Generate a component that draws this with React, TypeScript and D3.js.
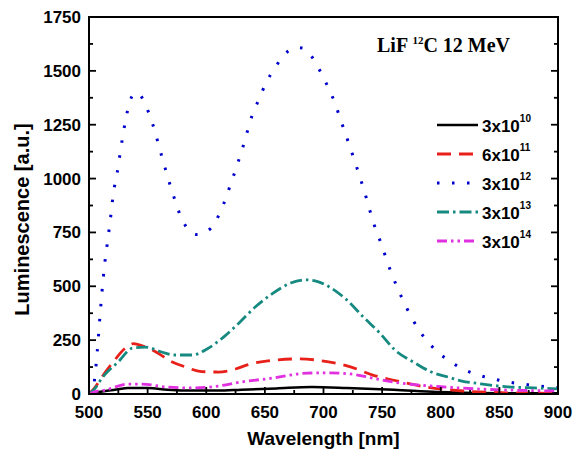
import React from "react";
import * as d3 from "d3";

type Pt = [number, number];

// wavelength (nm), luminescence (a.u.)
const fluence3e10: Pt[] = [
  [500, 0], [505, 6], [514, 14], [525, 22], [533, 28], [550, 28], [567, 20], [590, 16],
  [610, 16], [630, 20], [660, 26], [690, 32], [720, 28], [760, 20], [797, 9], [848, 4], [900, 3],
];
const fluence6e11: Pt[] = [
  [500, 0], [505, 30], [511, 79], [520, 144], [531, 213], [538, 234], [546, 222], [554, 204],
  [571, 149], [582, 126], [596, 104], [610, 102], [625, 116], [635, 135], [660, 158], [680, 163],
  [703, 150], [723, 126], [742, 88], [759, 65], [788, 32], [819, 14], [862, 5], [900, 3],
];
const fluence3e12: Pt[] = [
  [500, 0], [503, 10], [505, 80], [507, 195], [509, 335], [511, 470], [513, 585], [516, 715],
  [518, 800], [521, 940], [524, 1025], [528, 1170], [533, 1318], [536, 1375], [540, 1398],
  [544, 1385], [549, 1332], [554, 1258], [562, 1105], [570, 956], [580, 803], [586, 755],
  [592, 740], [598, 748], [604, 770], [612, 845], [622, 993], [631, 1142], [639, 1290],
  [645, 1369], [651, 1444], [659, 1518], [670, 1592], [677, 1608], [682, 1606], [688, 1580],
  [693, 1541], [700, 1467], [707, 1388], [717, 1235], [726, 1091], [735, 938], [743, 789],
  [748, 715], [758, 560], [770, 410], [782, 292], [793, 218], [806, 158], [819, 116],
  [832, 88], [845, 70], [857, 56], [870, 46], [883, 37], [900, 30],
];
const fluence3e13: Pt[] = [
  [500, 0], [505, 25], [511, 74], [525, 149], [537, 213], [548, 218], [562, 195], [573, 181],
  [588, 181], [601, 210], [616, 270], [628, 330], [642, 405], [657, 468], [672, 515],
  [685, 530], [695, 522], [705, 497], [720, 436], [734, 357], [748, 283], [761, 204],
  [778, 144], [792, 102], [806, 79], [818, 60], [832, 49], [855, 34], [880, 28], [900, 24],
];
const fluence3e14: Pt[] = [
  [500, 0], [505, 10], [514, 19], [533, 46], [545, 46], [567, 32], [590, 28], [610, 37],
  [630, 56], [657, 74], [686, 97], [705, 98], [723, 93], [742, 74], [759, 56], [780, 42],
  [805, 32], [833, 23], [876, 16], [900, 14],
];

const series = [
  { base: "3x10", exp: "10", data: fluence3e10, color: "#000000", dash: "none", width: 2.5 },
  { base: "6x10", exp: "11", data: fluence6e11, color: "#e8201a", dash: "14 8", width: 2.8 },
  { base: "3x10", exp: "12", data: fluence3e12, color: "#0000cd", dash: "2.5 12.5", width: 3 },
  { base: "3x10", exp: "13", data: fluence3e13, color: "#168a80", dash: "12 4 2.5 4", width: 2.8 },
  { base: "3x10", exp: "14", data: fluence3e14, color: "#e030e0", dash: "10 4 2.5 4 2.5 4", width: 2.8 },
];

const xTicks = [500, 550, 600, 650, 700, 750, 800, 850, 900];
const yTicks = [0, 250, 500, 750, 1000, 1250, 1500, 1750];

const W = 574;
const H = 461;
const plot = { left: 89, right: 558, top: 17, bottom: 394 };

export default function App() {
  const x = d3.scaleLinear().domain([500, 900]).range([plot.left, plot.right]);
  const y = d3.scaleLinear().domain([0, 1750]).range([plot.bottom, plot.top]);
  const line = d3
    .line<Pt>()
    .x((d) => x(d[0]))
    .y((d) => y(d[1]))
    .curve(d3.curveMonotoneX);

  const xMinor = d3.range(525, 900, 50);
  const yMinor = d3.range(125, 1750, 250);
  const font = "Arial, 'Liberation Sans', sans-serif";

  return (
    <svg width={W} height={H} style={{ position: "absolute", left: 0, top: 0 }} fontFamily={font}>
      <rect width={W} height={H} fill="#fff" />
      <defs>
        <clipPath id="plotClip">
          <rect x={plot.left} y={plot.top - 5} width={plot.right - plot.left} height={plot.bottom - plot.top + 5} />
        </clipPath>
      </defs>

      <g clipPath="url(#plotClip)">
        {series.map((s, i) => (
          <path
            key={i}
            d={line(s.data) ?? ""}
            fill="none"
            stroke={s.color}
            strokeWidth={s.width}
            strokeDasharray={s.dash}
          />
        ))}
      </g>

      {/* frame */}
      <rect
        x={plot.left}
        y={plot.top}
        width={plot.right - plot.left}
        height={plot.bottom - plot.top}
        fill="none"
        stroke="#000"
        strokeWidth={2}
      />

      {/* ticks, inside */}
      <g stroke="#000" strokeWidth={1.8}>
        {xTicks.map((t) => (
          <line key={"xt" + t} x1={x(t)} x2={x(t)} y1={plot.bottom} y2={plot.bottom - 7} />
        ))}
        {xMinor.map((t) => (
          <line key={"xm" + t} x1={x(t)} x2={x(t)} y1={plot.bottom} y2={plot.bottom - 4} />
        ))}
        {yTicks.map((t) => (
          <g key={"yt" + t}>
            <line x1={plot.left} x2={plot.left + 7} y1={y(t)} y2={y(t)} />
            <line x1={plot.right} x2={plot.right - 7} y1={y(t)} y2={y(t)} />
          </g>
        ))}
        {yMinor.map((t) => (
          <g key={"ym" + t}>
            <line x1={plot.left} x2={plot.left + 4} y1={y(t)} y2={y(t)} />
            <line x1={plot.right} x2={plot.right - 4} y1={y(t)} y2={y(t)} />
          </g>
        ))}
      </g>

      {/* tick labels */}
      <g fontSize={17} fontWeight="bold" fill="#000">
        {xTicks.map((t) => (
          <text key={"xl" + t} x={x(t)} y={plot.bottom + 24} textAnchor="middle">
            {t}
          </text>
        ))}
        {yTicks.map((t) => (
          <text key={"yl" + t} x={plot.left - 8} y={y(t) + 6} textAnchor="end">
            {t}
          </text>
        ))}
      </g>

      {/* axis titles */}
      <text x={(plot.left + plot.right) / 2} y={445} textAnchor="middle" fontSize={19} fontWeight="bold">
        Wavelength [nm]
      </text>
      <text
        transform={`translate(29,${(plot.top + plot.bottom) / 2 + 14}) rotate(-90)`}
        textAnchor="middle"
        fontSize={20}
        fontWeight="bold"
      >
        Luminescence [a.u.]
      </text>

      {/* annotation */}
      <text x={377} y={52} fontFamily="'Liberation Serif', 'Times New Roman', serif" fontSize={20} fontWeight="bold">
        LiF <tspan fontSize={11} dy={-8}>12</tspan>
        <tspan dy={8}>C 12 MeV</tspan>
      </text>

      {/* legend */}
      {series.map((s, i) => {
        const ly = 125 + i * 29;
        return (
          <g key={"lg" + i}>
            <line
              x1={437}
              x2={478}
              y1={ly}
              y2={ly}
              stroke={s.color}
              strokeWidth={s.width}
              strokeDasharray={s.dash}
            />
            <text x={482} y={ly + 7} fontSize={17} fontWeight="bold">
              {s.base}
              <tspan fontSize={10} dy={-10}>
                {s.exp}
              </tspan>
            </text>
          </g>
        );
      })}
    </svg>
  );
}
